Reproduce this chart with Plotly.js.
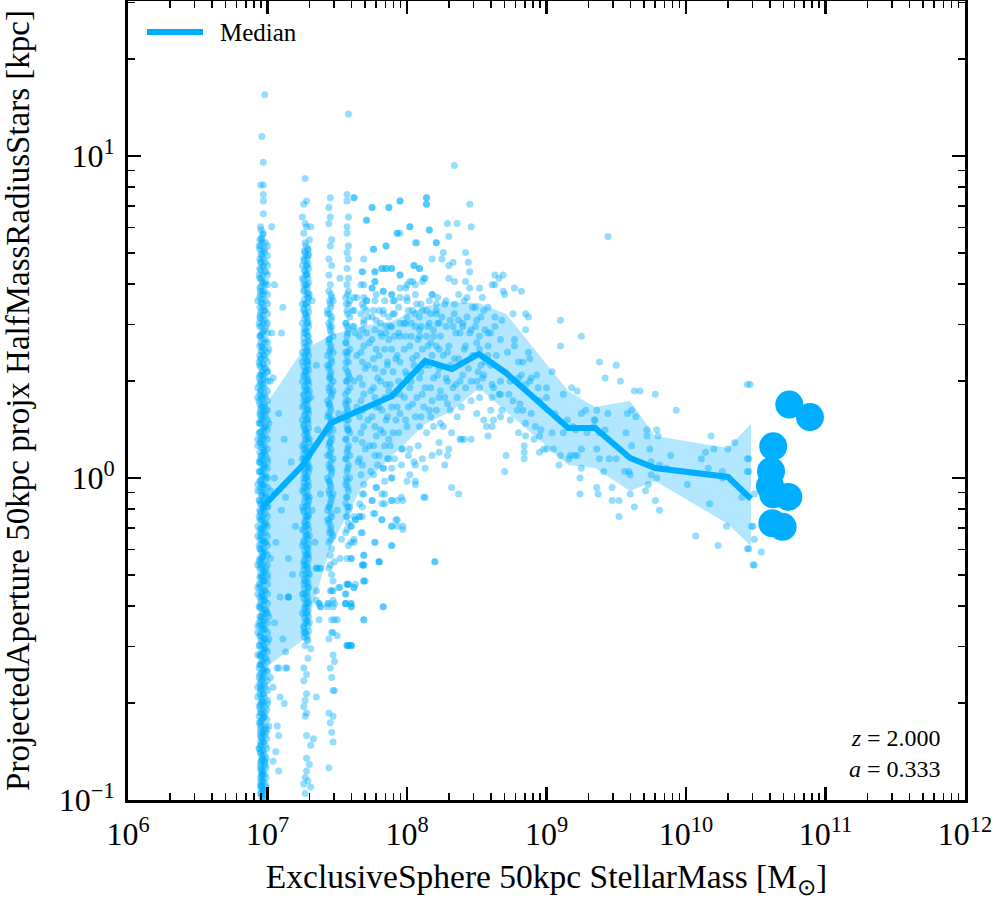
<!DOCTYPE html>
<html>
<head>
<meta charset="utf-8">
<script src="https://cdn.plot.ly/plotly-3.0.1.min.js"></script>
<style>
  html, body { margin: 0; padding: 0; background: white; }
  #chart { width: 996px; height: 900px; }
</style>
</head>
<body>
<div id="chart"></div>
<script>
// galaxies as [log10 M*, log10 R_half]
const column1 = [
  [6.98,1.19],[6.96,1.06],[6.97,0.98],[6.95,0.91],[6.97,0.91],[6.97,0.88],[6.97,0.86],[6.97,0.82],[7.03,0.78],
  [6.95,0.78],[6.97,0.76],[6.96,0.74],[6.94,0.72],[6.98,0.71],[6.96,0.69],[6.95,0.67],[6.97,0.66],[6.99,0.64],
  [6.94,0.63],[6.96,0.61],[6.98,0.60],[6.95,0.58],[6.97,0.57],[6.93,0.55],[6.96,0.54],[6.98,0.52],[6.95,0.51],
  [6.97,0.49],[6.94,0.48],[6.99,0.47],[6.96,0.45],[6.95,0.44],[6.98,0.42],[6.96,0.41],[7.01,0.40],
  [6.96,0.39],[6.95,0.37],[6.97,0.35],[6.96,0.33],[6.94,0.31],[6.97,0.29],[6.95,0.27],[6.96,0.25],[6.98,0.23],
  [6.95,0.21],[6.96,0.19],[6.94,0.17],[6.97,0.15],[6.96,0.13],[6.95,0.11],[6.97,0.09],[6.96,0.07],[6.94,0.05],
  [6.98,0.03],[6.96,0.01],[6.95,-0.01],[6.97,-0.03],[6.96,-0.05],[6.94,-0.07],[6.97,-0.09],[6.95,-0.11],
  [6.96,-0.13],[6.98,-0.15],[6.95,-0.17],[6.96,-0.19],[6.94,-0.21],[6.97,-0.23],[6.96,-0.25],[6.95,-0.27],
  [6.97,-0.29],[6.96,-0.31],[6.94,-0.33],[6.98,-0.35],[6.96,-0.37],[6.95,-0.39],[6.97,-0.41],[6.96,-0.43],
  [6.94,-0.45],[6.97,-0.47],[6.95,-0.49],[6.96,-0.51],[6.98,-0.53],[6.95,-0.55],[6.96,-0.57],[6.94,-0.59],
  [6.97,-0.61],[6.96,-0.63],[6.95,-0.65],[6.97,-0.67],[6.96,-0.69],[6.94,-0.71],[6.98,-0.73],[6.96,-0.75],
  [6.95,-0.77],[6.97,-0.79],[6.96,-0.81],[6.95,-0.83],[6.97,-0.85],[6.96,-0.87],[6.95,-0.89],[6.97,-0.91],
  [6.96,-0.93],[6.95,-0.95],[6.97,-0.97],[6.96,-0.99],
  [6.98,0.38],[6.94,0.36],[6.99,0.34],[6.97,0.32],[6.95,0.30],[6.93,0.28],[6.98,0.26],[6.94,0.24],[6.96,0.22],
  [6.98,0.20],[6.95,0.18],[6.99,0.16],[6.94,0.14],[6.97,0.12],[6.93,0.10],[6.98,0.08],[6.95,0.06],[6.97,0.04],
  [6.94,0.02],[6.99,0.00],[6.96,-0.02],[6.93,-0.04],[6.98,-0.06],[6.95,-0.08],[6.97,-0.10],[6.94,-0.12],
  [6.99,-0.14],[6.96,-0.16],[6.93,-0.18],[6.98,-0.20],[6.95,-0.22],[6.97,-0.24],[6.94,-0.26],[6.99,-0.28],
  [6.95,-0.30],[6.97,-0.32],[6.93,-0.34],[6.96,-0.36],[6.98,-0.38],[6.94,-0.40],[6.99,-0.42],[6.95,-0.44],
  [6.97,-0.46],[6.93,-0.48],[6.98,-0.50],[6.94,-0.52],[6.97,-0.54],[6.99,-0.56],[6.95,-0.58],[6.97,-0.60],
  [6.94,-0.62],[6.98,-0.64],[6.95,-0.66],[6.93,-0.68],[6.97,-0.70],[6.95,-0.72],[6.97,-0.74],[6.94,-0.76],
  [6.98,-0.78],[6.95,-0.80],[6.97,-0.82],[6.94,-0.84],[6.96,-0.86],[6.98,-0.88],[6.95,-0.90],[6.96,-0.92],
  [6.97,-0.94],[6.96,-0.96],[6.95,-0.98],
  [6.93,0.25],[6.99,0.21],[6.93,0.12],[7.00,0.05],[6.93,-0.02],[7.00,-0.09],[6.93,-0.15],[6.99,-0.20],
  [6.93,-0.27],[7.00,-0.31],[6.93,-0.36],[6.99,-0.41],[6.93,-0.46],[7.01,-0.50],[6.93,-0.55],[6.99,-0.60],
  [6.93,-0.65],[7.00,-0.70],[6.94,-0.74],[6.99,-0.79],[6.94,-0.84],[6.98,-0.88],[6.96,-0.92],[6.95,-0.96],
  [7.00,0.33],[7.01,0.17],[7.02,-0.04],[7.02,-0.25],[7.01,-0.43],[7.02,-0.62],[7.01,-0.77],[7.03,0.45],[7.02,0.30],
  [7.09,-0.37],[7.15,-0.37],[7.14,-0.59],[7.07,-0.59],[7.09,-0.68],[7.07,-0.77],[7.08,-0.80],[7.04,-0.88],
  [7.08,-0.91],[7.13,-0.54],[7.11,0.53],[7.13,-0.06],
  [6.955,0.77],[6.965,0.755],[6.955,0.745],[6.965,0.73],[6.95,0.72],[6.965,0.705],[6.955,0.695],[6.97,0.68],
  [6.955,0.67],[6.965,0.655],[6.95,0.645],[6.965,0.63],[6.955,0.62],[6.97,0.605],[6.955,0.595],[6.965,0.58],
  [6.95,0.57],[6.965,0.555],[6.955,0.545],[6.97,0.53],[6.955,0.52],[6.965,0.505],[6.95,0.495],[6.965,0.48],
  [6.955,0.47],[6.97,0.455],[6.955,0.445],[6.965,0.43],[6.95,0.42],[6.965,0.405],[6.955,0.395],[6.97,0.38],
  [6.955,0.37],[6.965,0.355],[6.95,0.345],[6.965,0.33],[6.955,0.32],[6.97,0.305],[6.955,0.295],[6.965,0.28],
  [6.95,0.27],[6.965,0.255],[6.955,0.245],[6.97,0.23],[6.955,0.22],[6.965,0.205],[6.95,0.195],[6.965,0.18],
  [6.955,0.17],[6.97,0.155],[6.955,0.145],[6.965,0.13],[6.95,0.12],[6.965,0.105],[6.955,0.095],[6.97,0.08],
  [6.955,0.07],[6.965,0.055],[6.95,0.045],[6.965,0.03],[6.955,0.02],[6.97,0.005],[6.955,-0.005],[6.965,-0.02],
  [6.95,-0.03],[6.965,-0.045],[6.955,-0.055],[6.97,-0.07],[6.955,-0.08],[6.965,-0.095],[6.95,-0.105],[6.965,-0.12],
  [6.955,-0.13],[6.97,-0.145],[6.955,-0.155],[6.965,-0.17],[6.95,-0.18],[6.965,-0.195],[6.955,-0.205],[6.97,-0.22],
  [6.955,-0.23],[6.965,-0.245],[6.95,-0.255],[6.965,-0.27],[6.955,-0.28],[6.97,-0.295],[6.955,-0.305],[6.965,-0.32],
  [6.95,-0.33],[6.965,-0.345],[6.955,-0.355],[6.97,-0.37],[6.955,-0.38],[6.965,-0.395],[6.95,-0.405],[6.965,-0.42],
  [6.955,-0.43],[6.97,-0.445],[6.955,-0.455],[6.965,-0.47],[6.95,-0.48],[6.965,-0.495],[6.955,-0.505],[6.97,-0.52],
  [6.955,-0.53],[6.965,-0.545],[6.95,-0.555],[6.965,-0.57],[6.955,-0.58],[6.97,-0.595],[6.955,-0.605],[6.965,-0.62],
  [6.95,-0.63],[6.965,-0.645],[6.955,-0.655],[6.97,-0.67],[6.955,-0.68],[6.965,-0.695],[6.95,-0.705],[6.965,-0.72],
  [6.955,-0.73],[6.97,-0.745],[6.955,-0.755],[6.965,-0.77],[6.95,-0.78],[6.965,-0.795],[6.955,-0.805],[6.97,-0.82],
  [6.955,-0.83],[6.965,-0.845],[6.95,-0.855],[6.965,-0.87],[6.955,-0.88],[6.97,-0.895],[6.955,-0.905],[6.965,-0.92],
  [6.95,-0.93],[6.965,-0.945],[6.955,-0.955],[6.97,-0.97],[6.955,-0.98],[6.965,-0.995]
];

// the densest part of the first column, where the dots pile up into a solid stripe
const column1Core = [
  [6.945,0.74],[6.985,0.73],[7.0,0.72],[6.945,0.71],[6.98,0.70],[7.0,0.69],[6.945,0.68],[6.985,0.67],[7.0,0.66],[6.945,0.65],
  [6.98,0.64],[7.0,0.63],[6.945,0.62],[6.985,0.61],[7.0,0.60],[6.945,0.59],[6.98,0.58],[7.0,0.57],[6.945,0.56],[6.985,0.55],
  [7.0,0.54],[6.945,0.53],[6.98,0.52],[7.0,0.51],[6.945,0.50],[6.985,0.49],[7.0,0.48],[6.945,0.47],[6.98,0.46],[7.0,0.45],
  [6.945,0.44],[6.985,0.43],[7.0,0.42],[6.945,0.41],[6.98,0.40],[7.0,0.39],[6.945,0.38],[6.985,0.37],[7.0,0.36],[6.945,0.35],
  [6.98,0.34],[7.0,0.33],[6.945,0.32],[6.985,0.31],[7.0,0.30],[6.945,0.29],[6.98,0.28],[7.0,0.27],[6.945,0.26],[6.985,0.25],
  [7.0,0.24],[6.945,0.23],[6.98,0.22],[7.0,0.21],[6.945,0.20],[6.985,0.19],[7.0,0.18],[6.945,0.17],[6.98,0.16],[7.0,0.15],
  [6.945,0.14],[6.985,0.13],[7.0,0.12],[6.945,0.11],[6.98,0.10],[7.0,0.09],[6.945,0.08],[6.985,0.07],[7.0,0.06],[6.945,0.05],
  [6.98,0.04],[7.0,0.03],[6.945,0.02],[6.985,0.01],[7.0,0.00],[6.945,-0.01],[6.98,-0.02],[7.0,-0.03],[6.945,-0.04],[6.985,-0.05],
  [7.0,-0.06],[6.945,-0.07],[6.98,-0.08],[7.0,-0.09],[6.945,-0.10],[6.985,-0.11],[7.0,-0.12],[6.945,-0.13],[6.98,-0.14],[7.0,-0.15],
  [6.945,-0.16],[6.985,-0.17],[7.0,-0.18],[6.945,-0.19],[6.98,-0.20],[7.0,-0.21],[6.945,-0.22],[6.985,-0.23],[7.0,-0.24],[6.945,-0.25],
  [6.98,-0.26],[7.0,-0.27],[6.945,-0.28],[6.985,-0.29],[7.0,-0.30],[6.945,-0.31],[6.98,-0.32],[7.0,-0.33],[6.945,-0.34],[6.985,-0.35],
  [7.0,-0.36],[6.945,-0.37],[6.98,-0.38],[7.0,-0.39],[6.945,-0.40],[6.985,-0.41],[7.0,-0.42],[6.945,-0.43],[6.98,-0.44],[7.0,-0.45],
  [6.945,-0.46],[6.985,-0.47],[7.0,-0.48],[6.945,-0.49],[6.98,-0.50],[7.0,-0.51],[6.945,-0.52],[6.985,-0.53],[7.0,-0.54],[6.945,-0.55],
  [6.98,-0.56],[7.0,-0.57],[6.945,-0.58],[6.985,-0.59],[7.0,-0.60],[6.945,-0.61],[6.98,-0.62],[7.0,-0.63],[6.945,-0.64],[6.985,-0.65],
  [7.0,-0.66],[6.945,-0.67],[6.98,-0.68],[7.0,-0.69],[6.95,-0.70],[6.985,-0.71],[6.995,-0.72],[6.95,-0.73],[6.98,-0.74],[6.995,-0.75],
  [6.95,-0.76],[6.985,-0.77],[6.995,-0.78],[6.95,-0.79],[6.98,-0.80],[6.995,-0.81],[6.95,-0.82],[6.985,-0.83],[6.995,-0.84],[6.95,-0.85],
  [6.98,-0.86],[6.99,-0.87],[6.955,-0.88],[6.985,-0.89],[6.99,-0.90],[6.955,-0.91],[6.98,-0.92],[6.99,-0.93],[6.955,-0.94],[6.985,-0.95],
  [6.99,-0.96],[6.96,-0.97],[6.98,-0.98],[6.97,-0.99]
];

const column2 = [
  [7.27,0.93],[7.28,0.86],[7.26,0.85],[7.25,0.81],[7.27,0.79],[7.28,0.78],[7.26,0.76],[7.30,0.74],[7.27,0.73],
  [7.29,0.71],[7.31,0.78],
  [7.27,0.70],[7.26,0.68],[7.28,0.66],[7.27,0.64],[7.25,0.62],[7.28,0.60],[7.26,0.58],[7.29,0.56],[7.27,0.54],
  [7.26,0.52],[7.28,0.50],[7.25,0.48],[7.27,0.46],[7.29,0.44],[7.26,0.42],[7.28,0.40],[7.27,0.38],[7.25,0.36],
  [7.28,0.34],[7.26,0.32],[7.29,0.30],[7.27,0.28],[7.26,0.26],[7.28,0.24],[7.25,0.22],[7.27,0.20],[7.29,0.18],
  [7.26,0.16],[7.28,0.14],[7.27,0.12],[7.25,0.10],[7.28,0.08],[7.26,0.06],[7.29,0.04],[7.27,0.02],[7.26,0.00],
  [7.28,-0.02],[7.25,-0.04],[7.27,-0.06],[7.29,-0.08],[7.26,-0.10],[7.28,-0.12],[7.27,-0.14],[7.25,-0.16],
  [7.28,-0.18],[7.26,-0.20],[7.29,-0.22],[7.27,-0.24],[7.26,-0.26],[7.28,-0.28],[7.25,-0.30],[7.27,-0.32],
  [7.29,-0.34],[7.26,-0.36],[7.28,-0.38],[7.27,-0.40],[7.25,-0.42],[7.28,-0.44],[7.26,-0.46],[7.27,-0.48],[7.28,-0.50],
  [7.29,0.69],[7.25,0.66],[7.28,0.63],[7.26,0.60],[7.30,0.57],[7.25,0.54],[7.27,0.51],[7.29,0.48],[7.26,0.45],
  [7.30,0.42],[7.25,0.39],[7.29,0.36],[7.27,0.33],[7.25,0.30],[7.30,0.27],[7.26,0.24],[7.29,0.21],[7.25,0.18],
  [7.27,0.15],[7.30,0.12],[7.26,0.09],[7.25,0.06],[7.30,0.03],[7.28,0.00],[7.26,-0.03],[7.30,-0.06],[7.25,-0.09],
  [7.29,-0.12],[7.27,-0.15],[7.30,-0.18],[7.25,-0.21],[7.29,-0.24],[7.26,-0.27],[7.30,-0.30],[7.26,-0.33],
  [7.25,-0.36],[7.29,-0.39],[7.27,-0.42],[7.30,-0.45],[7.26,-0.48],
  [7.27,-0.93],[7.26,-0.95],[7.29,-0.94],[7.31,-0.96],[7.27,-0.98],[7.28,-0.91],[7.30,-0.89],[7.28,-0.87],
  [7.31,-0.83],[7.28,-0.80],[7.33,-0.81],[7.27,-0.74],[7.28,-0.73],[7.26,-0.71],[7.27,-0.69],[7.28,-0.67],
  [7.35,-0.68],[7.26,-0.63],[7.28,-0.61],[7.26,-0.59],[7.29,-0.56],[7.31,-0.53],[7.27,-0.52],[7.35,-0.28],
  [7.37,-0.39],[7.38,-0.40],[7.32,0.55],[7.31,0.25],[7.33,0.10],[7.32,-0.10],[7.34,-0.20],
  [7.275,0.72],[7.265,0.705],[7.275,0.69],[7.265,0.675],[7.28,0.66],[7.265,0.645],[7.275,0.63],[7.26,0.615],
  [7.275,0.60],[7.265,0.585],[7.28,0.57],[7.265,0.555],[7.275,0.54],[7.26,0.525],[7.275,0.51],[7.265,0.495],
  [7.28,0.48],[7.265,0.465],[7.275,0.45],[7.26,0.435],[7.275,0.42],[7.265,0.405],[7.28,0.39],[7.265,0.375],
  [7.275,0.36],[7.26,0.345],[7.275,0.33],[7.265,0.315],[7.28,0.30],[7.265,0.285],[7.275,0.27],[7.26,0.255],
  [7.275,0.24],[7.265,0.225],[7.28,0.21],[7.265,0.195],[7.275,0.18],[7.26,0.165],[7.275,0.15],[7.265,0.135],
  [7.28,0.12],[7.265,0.105],[7.275,0.09],[7.26,0.075],[7.275,0.06],[7.265,0.045],[7.28,0.03],[7.265,0.015],
  [7.275,0.00],[7.26,-0.015],[7.275,-0.03],[7.265,-0.045],[7.28,-0.06],[7.265,-0.075],[7.275,-0.09],[7.26,-0.105],
  [7.275,-0.12],[7.265,-0.135],[7.28,-0.15],[7.265,-0.165],[7.275,-0.18],[7.26,-0.195],[7.275,-0.21],[7.265,-0.225],
  [7.28,-0.24],[7.265,-0.255],[7.275,-0.27],[7.26,-0.285],[7.275,-0.30],[7.265,-0.315],[7.28,-0.33],[7.265,-0.345],
  [7.275,-0.36],[7.26,-0.375],[7.275,-0.39],[7.265,-0.405],[7.28,-0.42],[7.265,-0.435],[7.275,-0.45],[7.26,-0.465],
  [7.275,-0.48],[7.265,-0.495],
  [7.29,0.71],[7.295,0.695],[7.285,0.68],[7.29,0.665],[7.295,0.65],[7.285,0.635],[7.29,0.62],[7.295,0.605],
  [7.285,0.59],[7.29,0.575],[7.295,0.56],[7.285,0.545],[7.29,0.53],[7.295,0.515],[7.285,0.50],[7.29,0.485],
  [7.295,0.47],[7.285,0.455],[7.29,0.44],[7.295,0.425],[7.285,0.41],[7.29,0.395],[7.295,0.38],[7.285,0.365],
  [7.29,0.35],[7.295,0.335],[7.285,0.32],[7.29,0.305],[7.295,0.29],[7.285,0.275],[7.29,0.26],[7.295,0.245],
  [7.285,0.23],[7.29,0.215],[7.295,0.20],[7.285,0.185],[7.29,0.17],[7.295,0.155],[7.285,0.14],[7.29,0.125],
  [7.295,0.11],[7.285,0.095],[7.29,0.08],[7.295,0.065],[7.285,0.05],[7.29,0.035],[7.295,0.02],[7.285,0.005],
  [7.29,-0.01],[7.295,-0.025],[7.285,-0.04],[7.29,-0.055],[7.295,-0.07],[7.285,-0.085],[7.29,-0.10],[7.295,-0.115],
  [7.285,-0.13],[7.29,-0.145],[7.295,-0.16],[7.285,-0.175],[7.29,-0.19],[7.295,-0.205],[7.285,-0.22],[7.29,-0.235],
  [7.295,-0.25],[7.285,-0.265],[7.29,-0.28],[7.295,-0.295],[7.285,-0.31],[7.29,-0.325],[7.295,-0.34],[7.285,-0.355],
  [7.29,-0.37],[7.295,-0.385],[7.285,-0.40],[7.29,-0.415],[7.295,-0.43],[7.285,-0.445],[7.29,-0.46],[7.295,-0.475],
  [7.285,-0.49],[7.29,-0.505]
];

const column3 = [
  [7.45,0.87],[7.44,0.84],[7.45,0.81],[7.44,0.79],[7.46,0.74],[7.45,0.72],[7.44,0.68],[7.46,0.66],[7.44,0.63],[7.45,0.60],
  [7.44,0.58],[7.46,0.56],[7.45,0.54],[7.43,0.52],[7.46,0.50],[7.44,0.48],[7.45,0.46],[7.47,0.44],[7.44,0.42],
  [7.45,0.40],[7.43,0.38],[7.46,0.36],[7.44,0.34],[7.45,0.32],[7.47,0.30],[7.44,0.28],[7.46,0.26],[7.43,0.24],
  [7.45,0.22],[7.44,0.20],[7.46,0.18],[7.45,0.16],[7.43,0.14],[7.46,0.12],[7.44,0.10],[7.45,0.08],[7.47,0.06],
  [7.44,0.04],[7.46,0.02],[7.43,0.00],[7.45,-0.02],[7.44,-0.04],[7.46,-0.06],[7.45,-0.08],[7.43,-0.10],
  [7.46,-0.12],[7.44,-0.14],[7.45,-0.16],[7.47,-0.18],[7.44,-0.20],[7.46,-0.22],[7.45,-0.24],
  [7.47,0.55],[7.43,0.51],[7.46,0.47],[7.44,0.43],[7.47,0.39],[7.43,0.35],[7.45,0.31],[7.47,0.27],[7.44,0.23],
  [7.43,0.19],[7.47,0.15],[7.45,0.11],[7.43,0.07],[7.46,0.03],[7.44,-0.01],[7.47,-0.05],[7.44,-0.09],[7.43,-0.13],[7.46,-0.17],
  [7.44,-0.90],[7.47,-0.82],[7.46,-0.79],[7.45,-0.76],[7.44,-0.73],[7.47,-0.74],[7.47,-0.66],[7.48,-0.66],
  [7.46,-0.62],[7.45,-0.59],[7.48,-0.57],[7.47,-0.55],[7.44,-0.50],[7.46,-0.48],[7.50,-0.44],[7.48,-0.44],
  [7.46,-0.44],[7.47,-0.40],[7.44,-0.39],[7.47,-0.38],[7.46,-0.35],[7.45,-0.35],[7.52,-0.34],[7.47,-0.32],
  [7.44,-0.28],[7.43,-0.39],[7.45,-0.27],[7.46,-0.30],
  [7.455,0.57],[7.445,0.55],[7.455,0.53],[7.445,0.51],[7.455,0.49],[7.445,0.47],[7.455,0.45],[7.445,0.43],
  [7.455,0.41],[7.445,0.39],[7.455,0.37],[7.445,0.35],[7.455,0.33],[7.445,0.31],[7.455,0.29],[7.445,0.27],
  [7.455,0.25],[7.445,0.23],[7.455,0.21],[7.445,0.19],[7.455,0.17],[7.445,0.15],[7.455,0.13],[7.445,0.11],
  [7.455,0.09],[7.445,0.07],[7.455,0.05],[7.445,0.03],[7.455,0.01],[7.445,-0.01],[7.455,-0.03],[7.445,-0.05],
  [7.455,-0.07],[7.445,-0.09],[7.455,-0.11],[7.445,-0.13],[7.455,-0.15],[7.445,-0.17],[7.455,-0.19]
];

const column4 = [
  [7.58,1.13],[7.57,0.88],[7.57,0.86],[7.58,0.81],[7.57,0.78],[7.57,0.76],[7.58,0.72],[7.57,0.70],[7.58,0.68],
  [7.57,0.65],[7.58,0.62],
  [7.57,0.60],[7.58,0.58],[7.56,0.56],[7.58,0.54],[7.57,0.52],[7.59,0.50],[7.56,0.48],[7.58,0.46],[7.57,0.44],
  [7.56,0.42],[7.59,0.40],[7.57,0.38],[7.58,0.36],[7.56,0.34],[7.58,0.32],[7.57,0.30],[7.59,0.28],[7.56,0.26],
  [7.58,0.24],[7.57,0.22],[7.56,0.20],[7.58,0.18],[7.57,0.16],[7.59,0.14],[7.56,0.12],[7.58,0.10],[7.57,0.08],
  [7.56,0.06],[7.58,0.04],[7.57,0.02],[7.59,0.00],[7.56,-0.02],[7.58,-0.04],[7.57,-0.06],[7.56,-0.08],
  [7.58,-0.10],[7.57,-0.12],[7.58,-0.14],[7.57,-0.16],
  [7.59,0.55],[7.57,0.47],[7.56,0.39],[7.59,0.31],[7.56,0.23],[7.58,0.15],[7.59,0.07],[7.57,-0.01],[7.59,-0.09],
  [7.57,-0.33],[7.62,-0.34],[7.56,-0.39],[7.60,-0.40],[7.57,-0.52],[7.60,-0.52],[7.58,-0.33],[7.60,-0.25],
  [7.56,-0.36],[7.60,-0.39],[7.58,-0.52],[7.60,-0.20],[7.62,-0.19],[7.60,-0.15],[7.63,-0.13],[7.62,-0.12],
  [7.58,-0.21],[7.57,-0.25],
  [7.575,0.57],[7.565,0.54],[7.575,0.51],[7.565,0.48],[7.575,0.45],[7.565,0.42],[7.575,0.39],[7.565,0.36],
  [7.575,0.33],[7.565,0.30],[7.575,0.27],[7.565,0.24],[7.575,0.21],[7.565,0.18],[7.575,0.15],[7.565,0.12],
  [7.575,0.09],[7.565,0.06],[7.575,0.03],[7.565,0.00],[7.575,-0.03],[7.565,-0.06],[7.575,-0.09],[7.565,-0.12]
];

const columns5to8 = [
  [7.68,0.64],[7.67,0.60],[7.69,0.56],[7.62,0.87],[7.62,0.56],[7.61,0.52],[7.61,0.47],
  [7.68,0.54],[7.67,0.51],[7.69,0.49],[7.68,0.46],[7.66,0.44],[7.69,0.41],[7.67,0.39],[7.68,0.36],[7.70,0.34],
  [7.66,0.31],[7.68,0.29],[7.69,0.26],[7.67,0.24],[7.68,0.21],[7.66,0.19],[7.69,0.16],[7.67,0.14],[7.68,0.11],
  [7.70,0.09],[7.66,0.06],[7.68,0.04],[7.67,0.01],[7.69,-0.02],[7.68,-0.05],[7.66,-0.08],[7.68,-0.12],
  [7.67,-0.17],[7.69,-0.24],[7.69,-0.27],[7.69,-0.32],[7.69,-0.44],[7.66,-0.12],[7.68,-0.27],
  [7.75,0.84],[7.71,0.80],[7.76,0.71],[7.77,0.64],[7.77,0.61],[7.75,0.59],[7.71,0.55],
  [7.77,0.55],[7.76,0.52],[7.78,0.49],[7.77,0.46],[7.75,0.43],[7.78,0.40],[7.76,0.37],[7.77,0.34],[7.79,0.31],
  [7.76,0.28],[7.77,0.25],[7.78,0.22],[7.75,0.19],[7.77,0.16],[7.78,0.13],[7.76,0.10],[7.77,0.07],[7.79,0.04],
  [7.76,0.01],[7.78,-0.03],[7.75,-0.07],[7.77,-0.11],[7.77,-0.20],[7.80,-0.26],[7.71,0.52],
  [7.85,0.72],[7.82,0.65],[7.85,0.65],[7.83,0.58],[7.89,0.65],[7.87,0.84],
  [7.84,0.55],[7.83,0.51],[7.85,0.47],[7.82,0.44],[7.84,0.40],[7.86,0.36],[7.83,0.33],[7.85,0.29],[7.84,0.25],
  [7.82,0.21],[7.85,0.18],[7.83,0.14],[7.84,0.10],[7.86,0.06],[7.83,0.03],[7.84,-0.01],[7.82,-0.05],[7.84,-0.08],[7.82,-0.13],
  [7.89,0.57],[7.91,0.55],[7.90,0.51],[7.88,0.47],[7.91,0.44],[7.89,0.40],[7.92,0.37],[7.90,0.33],[7.88,0.29],
  [7.91,0.26],[7.89,0.22],[7.92,0.18],[7.90,0.14],[7.88,0.10],[7.91,0.06],[7.89,0.03],[7.89,0.00],[7.93,-0.07],
  [7.89,-0.07],[7.92,-0.13],[7.89,-0.15],[7.89,-0.21],[7.93,-0.15],[7.95,0.76],[7.95,0.86],[7.93,0.76],
  [7.63,0.45],[7.64,0.38],[7.62,0.30],[7.64,0.22],[7.63,0.12],[7.65,0.05],[7.72,0.50],[7.73,0.42],[7.72,0.35],
  [7.74,0.27],[7.72,0.18],[7.73,0.10],[7.74,0.02],[7.80,0.52],[7.81,0.45],[7.80,0.38],[7.81,0.30],[7.80,0.22],
  [7.81,0.15],[7.80,0.07],[7.87,0.50],[7.87,0.43],[7.86,0.35],[7.87,0.27],[7.86,0.19],[7.87,0.12]
];

const betweenColumns = [
  [7.05,0.60],[7.10,0.45],[7.04,0.31],[7.08,0.20],[7.12,0.12],[7.05,0.00],[7.10,-0.10],[7.06,-0.20],
  [7.15,-0.25],[7.05,-0.45],[7.11,-0.50],[7.18,-0.30],[7.20,-0.15],[7.17,0.05],[7.04,-0.65],[7.12,-0.70],
  [7.06,-0.85],[7.35,0.35],[7.36,0.15],[7.38,-0.05],[7.52,0.62],[7.51,0.20],[7.50,-0.10]
];

const upperScatter = [
  [7.62,0.87],[7.75,0.84],[7.87,0.84],[7.95,0.86],[8.14,0.87],[8.14,0.85],[7.71,0.80],[7.93,0.76],[8.02,0.78],
  [8.16,0.77],[7.85,0.72],[8.07,0.73],[8.21,0.73],[7.76,0.71],[7.69,0.68],[8.05,0.66],[8.09,0.65],[8.18,0.68],
  [7.95,0.63],[7.68,0.64],[7.77,0.64],[7.82,0.65],[7.85,0.65],[7.89,0.65],[8.12,0.62],[7.77,0.61],[7.83,0.58],
  [7.89,0.57],[7.69,0.60],[7.75,0.59],[7.95,0.59],[8.00,0.60],[8.04,0.61],[8.11,0.61],[8.00,0.56],[8.06,0.57],
  [8.18,0.57],[7.90,0.55],[7.78,0.57],[7.71,0.55],[7.64,0.56],[7.62,0.52],[7.69,0.53],[7.75,0.50],[7.83,0.52],
  [7.91,0.51],[8.01,0.52],[8.09,0.50],[8.14,0.52],[8.21,0.51],[7.62,0.47],[7.69,0.48],[7.81,0.48],[7.89,0.47],
  [7.99,0.48],[8.06,0.47],[8.15,0.47],[8.23,0.48],[7.71,0.45],[7.85,0.45],[7.95,0.44],[8.09,0.44],[8.19,0.44],
  [8.34,0.97],[9.44,0.75]
];

const lowerScatter = [
  [7.96,0.09],[8.01,0.07],[8.06,0.04],[7.87,0.06],[7.83,0.03],[7.89,0.00],[8.00,-0.01],[8.06,-0.01],[7.96,-0.06],
  [7.84,-0.05],[7.78,-0.03],[7.75,-0.07],[7.82,-0.08],[7.89,-0.07],[7.69,-0.05],[7.68,-0.09],[7.76,-0.11],
  [7.82,-0.13],[7.93,-0.13],[7.97,-0.15],[7.89,-0.15],[7.66,-0.12],[7.68,-0.17],[7.77,-0.20],[7.69,-0.24],
  [7.69,-0.27],[7.80,-0.26],[7.89,-0.21],[7.70,-0.32],[7.83,-0.40],[7.62,-0.20],[7.60,-0.25],[7.63,-0.33],
  [7.58,-0.33],[7.56,-0.36],[7.60,-0.39],[7.69,-0.44],[7.58,-0.52],[7.60,-0.52],[7.51,-0.34],[7.48,-0.39],
  [7.56,-0.39],[7.50,-0.49],[7.47,-0.48],[7.43,-0.40],[7.47,-0.35],[7.37,-0.44],[7.38,-0.28],[7.35,-0.38],
  [7.52,-0.25],[7.48,-0.26],[7.53,-0.19],[7.56,-0.17],[7.60,-0.15],[7.63,-0.13],[8.12,-0.06],[7.15,-0.37],
  [7.13,-0.59],[7.08,-0.59],[7.37,-0.28],[7.35,-0.35],[7.57,-0.33],[7.62,-0.34],[7.69,-0.32],[7.56,-0.39],
  [7.60,-0.40],[7.83,-0.40],[7.57,-0.52],[7.60,-0.52],[8.20,-0.26],[7.80,-0.26],[7.68,-0.27],[7.35,-0.28],
  [7.37,-0.39],[7.38,-0.40],[7.15,-0.37]
];

const cloudScatter = [
  [8.14,0.87],[8.14,0.85],[8.45,0.85],[8.02,0.78],[8.29,0.79],[8.36,0.79],[8.46,0.78],[8.16,0.77],[8.30,0.75],
  [8.21,0.73],[8.06,0.73],[8.42,0.70],[8.26,0.70],[8.25,0.68],[8.05,0.66],[8.09,0.65],[8.30,0.66],[8.33,0.67],
  [8.44,0.67],[8.45,0.64],[7.95,0.63],[8.13,0.62],[8.30,0.62],[8.34,0.61],[8.42,0.61],[8.63,0.63],[8.66,0.62],
  [8.69,0.63],[8.61,0.60],[8.63,0.60],[8.02,0.61],[8.06,0.60],[7.99,0.59],[8.52,0.59],[8.45,0.59],[8.69,0.58],
  [8.77,0.59],[8.82,0.58],[8.70,0.57],[8.18,0.57],[8.37,0.57],[8.43,0.56],[7.95,0.56],[8.00,0.55],[8.07,0.54],
  [8.21,0.54],[8.27,0.54],[8.49,0.53],[8.54,0.56],[8.55,0.52],[8.58,0.53],[8.76,0.51],[8.85,0.51],[8.87,0.50],
  [8.63,0.50],[8.68,0.49],[9.10,0.49],[8.85,0.46],[9.25,0.44],[9.10,0.41],[9.38,0.36],[9.50,0.35],[9.42,0.31],
  [9.53,0.30],[9.04,0.33],[9.18,0.28],[9.22,0.27],[9.63,0.27],[9.67,0.27],[9.78,0.26],[9.93,0.21],[10.44,0.29],
  [10.46,0.29],[9.61,0.21],[9.64,0.19],[9.36,0.21],[9.28,0.21],[9.34,0.18],[9.12,0.26],[8.94,0.28],[9.00,0.28],
  [8.89,0.31],[8.93,0.32],[8.77,0.41],[8.80,0.36],[8.83,0.36],[8.87,0.39],[8.88,0.37],[8.82,0.32],[8.88,0.30],
  [8.74,0.30],[8.67,0.30],[8.61,0.29],[8.67,0.26],[8.62,0.28],[8.66,0.26],[8.52,0.25],[8.50,0.30],[8.55,0.32],
  [8.54,0.31],[8.60,0.35],[8.56,0.36],[8.64,0.38],[8.77,0.43],[8.72,0.39],[8.67,0.43],[8.60,0.45],[8.56,0.46],
  [8.63,0.47],[8.52,0.44],[8.49,0.47],[8.43,0.50],[8.50,0.49],[8.37,0.49],[8.34,0.51],[8.31,0.49],[8.40,0.47],
  [8.45,0.45],[8.38,0.45],[8.33,0.47],[8.25,0.50],[8.21,0.52],[8.17,0.51],[8.11,0.52],[8.06,0.51],[8.00,0.50],
  [7.95,0.48],[8.03,0.48],[8.09,0.46],[8.19,0.46],[8.24,0.44],[8.14,0.44],[8.08,0.43],[7.99,0.44],[8.02,0.41],
  [8.15,0.41],[8.21,0.41],[8.30,0.41],[8.42,0.41],[8.50,0.42],[8.58,0.41],[8.07,0.38],[8.18,0.38],[8.26,0.38],
  [8.37,0.37],[8.48,0.38],[7.95,0.36],[8.05,0.35],[8.13,0.35],[8.23,0.34],[8.31,0.35],[8.44,0.34],[8.51,0.33],
  [8.00,0.32],[8.09,0.31],[8.19,0.31],[8.29,0.30],[8.38,0.30],[8.46,0.30],[8.02,0.28],[8.13,0.28],[8.24,0.27],
  [8.33,0.28],[8.42,0.28],[8.52,0.28],[7.95,0.26],[8.07,0.25],[8.18,0.24],[8.27,0.25],[8.36,0.25],[8.46,0.24],
  [8.01,0.22],[8.12,0.22],[8.21,0.21],[8.31,0.21],[8.39,0.22],[8.61,0.25],[7.95,0.20],[8.06,0.19],[8.17,0.19],
  [8.26,0.16],[8.36,0.19],[8.09,0.16],[8.00,0.16],[8.19,0.16],[8.60,0.21],[8.61,0.16],[8.58,0.13],[8.39,0.12],
  [8.41,0.12],[8.74,0.18],[8.71,0.07],[8.70,0.02],[8.80,0.14],[8.85,0.13],[8.84,0.10],[8.84,0.08],[8.84,0.06],
  [8.91,0.12],[8.95,0.13],[9.00,0.09],[9.05,0.09],[8.95,0.08],[9.10,0.07],[9.17,0.07],[9.09,0.04],[9.22,0.07],
  [9.25,0.09],[9.25,0.03],[9.24,0.00],[9.36,0.09],[9.38,0.06],[9.45,0.06],[9.50,0.06],[9.57,0.14],[9.61,0.10],
  [9.60,0.01],[9.60,-0.05],[9.47,-0.03],[9.37,-0.05],[9.36,-0.03],[9.24,-0.05],[9.52,-0.07],[9.47,-0.07],
  [9.52,-0.12],[9.63,-0.09],[9.71,-0.04],[9.72,0.13],[9.79,0.15],[9.80,0.13],[9.75,0.05],[9.81,0.04],[9.79,0.00],
  [9.73,-0.02],[9.75,0.01],[9.78,-0.07],[9.81,-0.10],[9.89,0.07],[10.01,-0.02],[10.14,0.08],[10.20,0.09],
  [10.18,0.13],[10.16,0.03],[10.26,0.02],[10.17,-0.08],[10.30,0.09],[10.35,0.11],[10.45,0.06],[10.45,0.02],
  [10.07,-0.18],[10.23,-0.21],[10.29,-0.15],[10.47,-0.15],[10.45,-0.22],[10.48,-0.27],[8.20,-0.26],[7.97,-0.16],
  [7.97,-0.07],[8.13,-0.06],[8.32,-0.03],[8.37,-0.05],[8.06,-0.02],[8.02,0.01],[8.13,0.03],[7.96,0.04],
  [8.05,0.05],[8.11,0.06],[8.18,0.07],[8.23,0.08],[8.29,0.07],[8.30,0.09],[8.27,0.04],[8.08,0.10],[8.02,0.09],
  [7.97,0.09],[8.23,0.11],[8.14,0.14],[8.24,0.17],[8.32,0.14],[8.38,0.12],[8.46,0.12],[8.62,0.18],[8.67,0.19],
  [8.68,0.21],[8.57,0.16],[8.50,0.20],[8.55,0.18],[8.80,0.31],[8.73,0.26],[8.76,0.24],[8.79,0.21],[8.81,0.23],
  [8.85,0.29],[8.83,0.21],[8.85,0.17],[8.89,0.20],[8.95,0.24],[9.00,0.25],[8.92,0.16],[8.96,0.15],[9.06,0.20],
  [9.12,0.14],[9.04,0.14],[9.15,0.18],[9.19,0.16],[9.21,0.15],[9.29,0.14],[9.34,0.16],[9.25,0.20],[9.35,0.18],
  [9.42,0.15],[9.38,0.14],[9.44,0.20],[9.58,0.20],[9.72,0.15],[9.74,0.09],[9.59,0.02],[9.56,0.02],[9.41,0.02],
  [9.20,0.07],[8.98,0.09],[9.16,0.06],[9.86,0.03],[10.11,0.06],[10.26,0.00],
  [10.49,-0.05],[10.48,-0.15],[10.49,-0.19],[10.44,-0.22],[10.54,-0.23],[10.49,-0.27],[10.44,0.06],[10.44,0.02],[10.40,-0.06],
  [7.94,0.53],[7.94,0.45],[7.93,0.38],[7.94,0.30],[7.93,0.22],[7.94,0.14],[7.98,0.48],[7.98,0.40],[7.99,0.33],
  [7.98,0.25],[7.99,0.18],[8.04,0.52],[8.03,0.44],[8.04,0.37],[8.03,0.30],[8.04,0.23],[8.10,0.54],[8.10,0.47],
  [8.11,0.40],[8.10,0.33],[8.11,0.26],[8.10,0.19],[8.16,0.55],[8.16,0.48],[8.17,0.42],[8.16,0.35],[8.17,0.28],
  [8.16,0.21],[8.22,0.56],[8.22,0.48],[8.23,0.40],[8.22,0.32],[8.23,0.25],[8.28,0.55],[8.28,0.47],[8.29,0.39],
  [8.28,0.31],[8.29,0.23],[8.34,0.54],[8.35,0.45],[8.34,0.37],[8.35,0.29],[8.41,0.55],[8.40,0.48],[8.41,0.40],
  [8.40,0.32],[8.47,0.53],[8.46,0.46],[8.47,0.38],[8.53,0.50],[8.52,0.40],[8.53,0.35],[8.58,0.45],[8.58,0.38]
];

// binned median with 16th-84th percentile band
const binMass = [9.1e6, 1.77e7, 2.85e7, 4.84e7, 7.81e7, 1.35e8, 2.10e8, 3.28e8, 5.13e8, 1.43e9, 2.23e9, 3.97e9, 6.0e9, 2.0e10, 2.92e10];
const binMedian = [0.807, 1.090, 1.482, 1.650, 1.798, 2.309, 2.180, 2.427, 2.119, 1.430, 1.430, 1.154, 1.074, 1.007, 0.861];
const binLow = [0.253, 0.312, 0.615, 0.951, 1.170, 1.471, 1.615, 1.903, 1.615, 1.098, 1.074, 0.911, 0.979, 0.720, 0.615];
const binHigh = [1.615, 2.480, 2.781, 2.965, 3.073, 3.421, 3.520, 3.495, 3.230, 1.863, 1.662, 1.734, 1.350, 1.239, 1.471];

// the most massive galaxies, drawn as big dots
const bigMass = [5.5e10, 7.74e10, 4.22e10, 4.07e10, 4.0e10, 5.41e10, 4.22e10, 4.16e10, 4.93e10];
const bigRadius = [1.69, 1.545, 1.254, 1.05, 0.944, 0.873, 0.89, 0.723, 0.705];

const xTickVals = [1e6, 1e7, 1e8, 1e9, 1e10, 1e11, 1e12];
const xTickText = ["10<sup>6</sup>", "10<sup>7</sup>", "10<sup>8</sup>", "10<sup>9</sup>", "10<sup>10</sup>", "10<sup>11</sup>", "10<sup>12</sup>"];
const yTickVals = [0.1, 1, 10];
const yTickText = ["10<sup>\u22121</sup>", "10<sup>0</sup>", "10<sup>1</sup>"];

const BLUE = "#00aeff";
const FONT = "Liberation Serif";

const allPoints = [].concat(column1, column1Core, column2, column3, column4, columns5to8, betweenColumns, upperScatter, lowerScatter, cloudScatter);

function minorTicks(lo, hi) {
  const out = [];
  for (let e = lo; e < hi; e++) for (let k = 2; k <= 9; k++) out.push(k * 10 ** e);
  return out;
}

const axisBase = {
  type: "log",
  showline: true,
  linewidth: 3,
  linecolor: "black",
  mirror: "ticks",
  ticks: "inside",
  ticklen: 13,
  tickwidth: 2.5,
  tickcolor: "black",
  showgrid: false,
  zeroline: false,
  tickmode: "array",
  ticklabelstandoff: 4,
  tickfont: { family: FONT, size: 32, color: "black" },
};

const traces = [
  {
    type: "scatter",
    mode: "lines",
    x: binMass.concat(binMass.slice().reverse()),
    y: binHigh.concat(binLow.slice().reverse()),
    fill: "toself",
    fillcolor: "rgba(0,174,255,0.3)",
    line: { width: 0 },
    hoverinfo: "skip",
    showlegend: false,
  },
  {
    type: "scatter",
    mode: "markers",
    x: allPoints.map((p) => 10 ** p[0]),
    y: allPoints.map((p) => 10 ** p[1]),
    marker: { size: 7, color: "rgba(0,174,255,0.42)", line: { width: 0 } },
    showlegend: false,
  },
  {
    type: "scatter",
    mode: "lines",
    name: "Median",
    x: binMass,
    y: binMedian,
    line: { color: BLUE, width: 6 },
    showlegend: false,
  },
  {
    type: "scatter",
    mode: "markers",
    x: bigMass,
    y: bigRadius,
    marker: { size: 28, color: BLUE, line: { width: 0 } },
    showlegend: false,
  },
];

const layout = {
  width: 996,
  height: 900,
  margin: { l: 128, r: 31, t: 1, b: 100 },
  paper_bgcolor: "white",
  plot_bgcolor: "white",
  font: { family: FONT, color: "black" },
  showlegend: false,
  xaxis: {
    ...axisBase,
    range: [6, 12],
    tickvals: xTickVals,
    ticktext: xTickText,
    minor: { tickvals: minorTicks(6, 12), ticks: "inside", ticklen: 7, tickwidth: 1.5, tickcolor: "black", showgrid: false },
    title: { text: "ExclusiveSphere 50kpc StellarMass [M<sub>\u2299</sub>]", font: { family: FONT, size: 33.5 }, standoff: 14 },
  },
  yaxis: {
    ...axisBase,
    range: [-1, 1.481],
    tickvals: yTickVals,
    ticktext: yTickText,
    minor: { tickvals: minorTicks(-1, 2), ticks: "inside", ticklen: 7, tickwidth: 1.5, tickcolor: "black", showgrid: false },
    title: { text: "ProjectedAperture 50kpc projx HalfMassRadiusStars [kpc]", font: { family: FONT, size: 33 }, standoff: 23 },
  },
  // legend drawn by hand so the line sample matches the original length
  shapes: [
    { type: "line", xref: "paper", yref: "paper", x0: 0.0227, x1: 0.0896, y0: 0.9612, y1: 0.9612, line: { color: BLUE, width: 6 } },
  ],
  annotations: [
    {
      xref: "paper",
      yref: "paper",
      x: 0.108,
      y: 0.9612,
      xanchor: "left",
      yanchor: "middle",
      showarrow: false,
      text: "Median",
      font: { family: FONT, size: 25, color: "black" },
    },
    {
      xref: "paper",
      yref: "paper",
      x: 0.974,
      y: 0.058,
      xanchor: "right",
      yanchor: "middle",
      align: "right",
      showarrow: false,
      text: "<i>z</i> = 2.000<br><i>a</i> = 0.333",
      font: { family: FONT, size: 24, color: "black" },
    },
  ],
};

Plotly.newPlot("chart", traces, layout, { displayModeBar: false, staticPlot: true });
</script>
</body>
</html>
